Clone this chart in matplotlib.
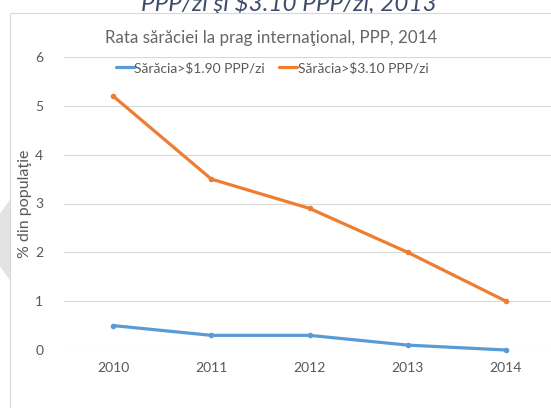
import numpy as np
import matplotlib
matplotlib.use("Agg")
import matplotlib.pyplot as plt
from matplotlib.patches import Rectangle, Polygon

plt.rcParams['font.family'] = ['Lato', 'DejaVu Sans']

years = ['2010', '2011', '2012', '2013', '2014']
sarac_190 = [0.5, 0.3, 0.3, 0.1, 0.0]
sarac_310 = [5.2, 3.5, 2.9, 2.0, 1.0]
labels = ['Sărăcia>$1.90 PPP/zi', 'Sărăcia>$3.10 PPP/zi']
colors = ['#5B9BD5', '#ED7D31']

W, H = 551, 408
fig = plt.figure(figsize=(W / 100, H / 100), dpi=100)

def px(x, y):
    # pixel coords (from top-left) -> figure fraction
    return x / W, 1 - y / H

# gray shape behind the chart (left edge)
tri = Polygon([px(-19, 240), px(60, 130), px(60, 350)], closed=True,
              transform=fig.transFigure, facecolor='#E3E3E3', edgecolor='none', zorder=0)
fig.patches.append(tri)

# chart frame
x0, y0 = px(10, 12.7)
frame = Rectangle((x0, -0.2), 1.2, y0 + 0.2, transform=fig.transFigure,
                  facecolor='white', edgecolor='#D9D9D9', linewidth=0.8, zorder=1)
fig.patches.append(frame)

# cut-off heading above the chart
fig.text(289 / W, 1 - 11 / H, 'PPP/zi şi $3.10 PPP/zi, 2013', ha='center', va='baseline',
         fontsize=17.5, style='italic', color='#3F4D6B', zorder=0.5)

fig.text(271 / W, 1 - 38 / H, 'Rata sărăciei la prag internaţional, PPP, 2014',
         ha='center', va='center', fontsize=12.2, color='#666666', zorder=2)

l, b = px(64, 350)
r, t = px(555, 57)
ax = fig.add_axes([l, b, r - l, t - b])
ax.set_facecolor('none')
ax.set_zorder(3)

x = np.arange(len(years))
ax.plot(x, sarac_190, color=colors[0], lw=2.3, marker='o', ms=3, label=labels[0],
        solid_capstyle='round', clip_on=False)
ax.plot(x, sarac_310, color=colors[1], lw=2.3, marker='o', ms=3, label=labels[1],
        solid_capstyle='round', clip_on=False)

ax.set_xlim(-0.5, 4.5)
ax.set_ylim(0, 6)
ax.set_xticks(x)
ax.set_xticklabels(years)
ax.set_yticks(range(0, 7))
ax.tick_params(length=0, labelsize=10, colors='#595959')
ax.tick_params(axis='y', pad=15)
ax.tick_params(axis='x', pad=9)
for s in ax.spines.values():
    s.set_visible(False)
ax.grid(axis='y', color='#D9D9D9', lw=0.8)
ax.set_axisbelow(True)
ax.set_ylabel('% din populaţie', fontsize=11.5, color='#595959')
ax.yaxis.set_label_coords((32 - 64) / 491, 0.5)

leg = ax.legend(loc='center', bbox_to_anchor=(px(272, 68)[0], px(272, 68)[1]),
                bbox_transform=fig.transFigure, ncol=2, frameon=False, fontsize=10,
                handlelength=1.3, handletextpad=0.05, columnspacing=1.0,
                labelcolor='#595959')
for h in leg.legend_handles:
    h.set_marker('')

fig.savefig('out.png', dpi=100)
